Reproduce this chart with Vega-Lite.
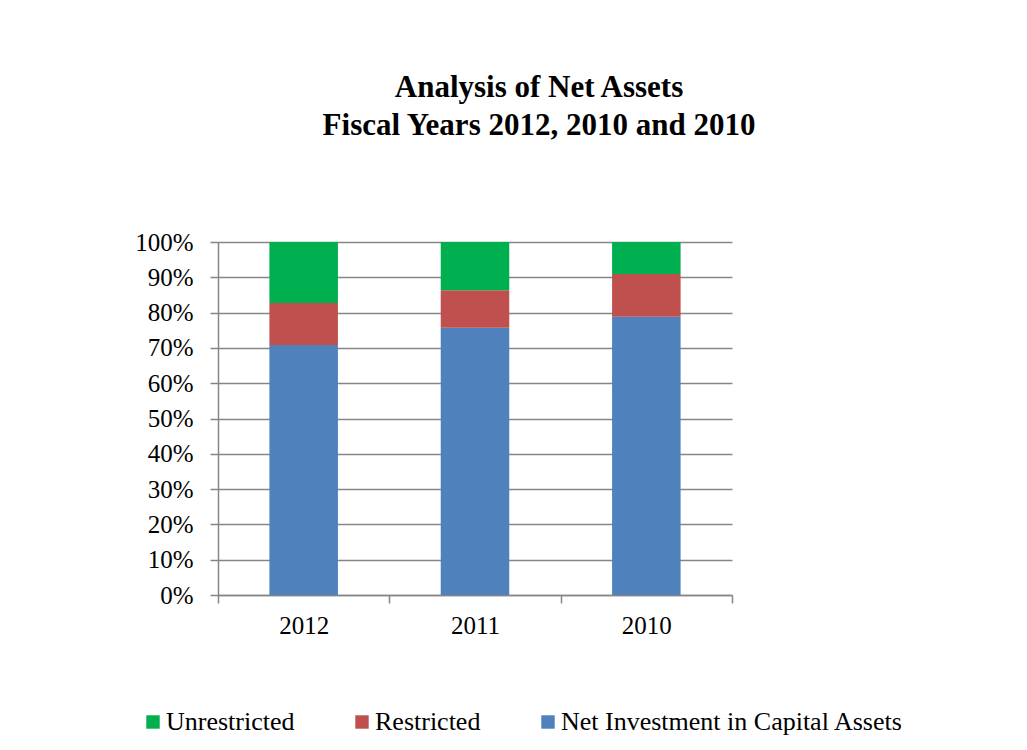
{
  "$schema": "https://vega.github.io/schema/vega-lite/v6.json",
  "autosize": {"type": "none"},
  "width": 514,
  "height": 353,
  "padding": {"left": 218, "top": 242, "right": 295, "bottom": 155},
  "background": "white",
  "config": {
    "font": "Liberation Serif",
    "view": {"stroke": null}
  },
  "title": {
    "text": ["Analysis of Net Assets", "Fiscal Years 2012, 2010 and 2010"],
    "font": "Liberation Serif",
    "fontSize": 31,
    "fontWeight": "bold",
    "color": "black",
    "anchor": "middle",
    "frame": "group",
    "dx": 64,
    "offset": 88,
    "lineHeight": 38
  },
  "data": {
    "values": [
      {"year": "2012", "series": "Net Investment in Capital Assets", "value": 70.8},
      {"year": "2012", "series": "Restricted", "value": 11.9},
      {"year": "2012", "series": "Unrestricted", "value": 17.3},
      {"year": "2011", "series": "Net Investment in Capital Assets", "value": 75.7},
      {"year": "2011", "series": "Restricted", "value": 10.6},
      {"year": "2011", "series": "Unrestricted", "value": 13.7},
      {"year": "2010", "series": "Net Investment in Capital Assets", "value": 78.8},
      {"year": "2010", "series": "Restricted", "value": 12.1},
      {"year": "2010", "series": "Unrestricted", "value": 9.1}
    ]
  },
  "mark": {"type": "bar", "width": {"band": 0.4}},
  "encoding": {
    "x": {
      "field": "year",
      "type": "nominal",
      "sort": ["2012", "2011", "2010"],
      "scale": {"paddingInner": 0, "paddingOuter": 0},
      "axis": {
        "title": null,
        "labelAngle": 0,
        "labelFont": "Liberation Serif",
        "labelFontSize": 25,
        "labelColor": "black",
        "labelPadding": 10,
        "tickBand": "extent",
        "tickSize": 8,
        "tickColor": "#868686",
        "domainColor": "#868686",
        "domainWidth": 1.5,
        "tickWidth": 1.5,
        "grid": false
      }
    },
    "y": {
      "field": "value",
      "type": "quantitative",
      "stack": "normalize",
      "scale": {"domain": [0, 1]},
      "axis": {
        "title": null,
        "format": ".0%",
        "values": [0, 0.1, 0.2, 0.3, 0.4, 0.5, 0.6, 0.7, 0.8, 0.9, 1.0],
        "labelFont": "Liberation Serif",
        "labelFontSize": 25,
        "labelColor": "black",
        "labelPadding": 17,
        "tickSize": 8,
        "tickColor": "#868686",
        "tickWidth": 1.5,
        "domainColor": "#868686",
        "domainWidth": 1.5,
        "grid": true,
        "gridColor": "#868686",
        "gridWidth": 1.5
      }
    },
    "color": {
      "field": "series",
      "type": "nominal",
      "scale": {
        "domain": ["Unrestricted", "Restricted", "Net Investment in Capital Assets"],
        "range": ["#00b050", "#c0504d", "#4f81bd"]
      },
      "legend": {
        "title": null,
        "orient": "none",
        "direction": "horizontal",
        "legendX": -78,
        "legendY": 467,
        "symbolType": "square",
        "symbolSize": 180,
        "symbolStrokeWidth": 0,
        "symbolOpacity": 1,
        "labelFont": "Liberation Serif",
        "labelFontSize": 26,
        "labelColor": "black",
        "labelOffset": 0,
        "columnPadding": 54,
        "labelLimit": 500
      }
    },
    "order": {"field": "series", "sort": "ascending"}
  }
}
